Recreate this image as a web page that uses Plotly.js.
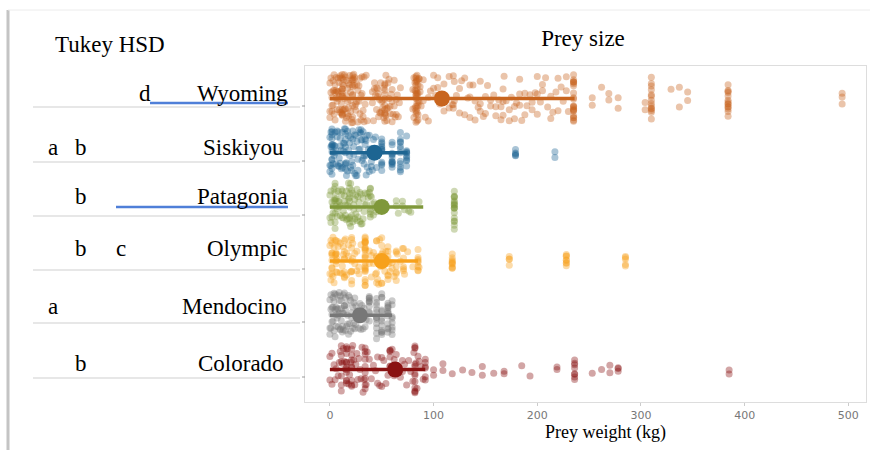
<!DOCTYPE html>
<html>
<head>
<meta charset="utf-8">
<script src="https://cdn.plot.ly/plotly-3.0.1.min.js"></script>
<style>html,body{margin:0;padding:0;background:#fff;}#chart{width:870px;height:450px;}</style>
</head>
<body>
<div id="chart"></div>
<script>
// ---- data ----
const categories = ['Wyoming', 'Siskiyou', 'Patagonia', 'Olympic', 'Mendocino', 'Colorado'];

const wyoming = [0,0,0,1,1,2,2,2,3,3,3,4,4,4,5,5,5,6,6,6,7,7,7,8,8,8,9,9,9,10,10,10,11,11,11,
12,12,12,12,12,12,12,12,12,12,12,12,13,13,13,14,14,14,15,15,15,16,16,16,17,17,17,18,18,18,19,19,20,20,20,21,21,21,
22,22,22,22,22,22,22,22,22,22,23,23,24,24,24,25,25,26,26,27,27,28,28,29,29,30,30,31,31,32,32,33,33,34,35,36,
41,41,42,43,43,44,45,45,46,46,47,47,48,48,49,49,50,50,51,51,52,52,53,53,53,53,53,53,53,53,53,53,54,54,55,55,56,56,57,57,58,58,59,60,60,60,61,62,62,63,64,64,65,66,67,68,
80,80,81,81,82,82,82,83,83,83,83,83,83,83,83,83,83,83,83,84,84,84,84,84,84,84,84,84,84,85,85,85,85,85,85,86,86,86,87,87,88,
90,90,92,95,95,97,100,100,102,104,104,106,110,110,112,115,115,118,119,119,119,120,120,122,125,125,127,130,130,133,135,135,135,138,140,140,143,145,145,145,148,150,150,152,155,155,158,160,160,163,165,165,167,167,167,168,170,173,173,175,178,178,180,183,183,183,185,188,188,190,193,195,195,198,200,200,200,203,205,205,208,210,213,213,215,218,220,220,223,225,228,228,230,
235,235,235,235,235,235,235,235,235,235,235,235,235,235,235,235,235,235,235,235,235,235,
253,253,262,269,269,278,278,304,304,
310,310,310,310,310,310,310,310,310,310,310,310,310,310,329,337,337,345,345,
384,384,384,384,384,384,384,384,384,384,384,384,384,384,494,494,494];

const siskiyou = [0,0,0,1,1,1,2,2,2,2,2,2,2,2,2,2,2,2,3,3,3,4,4,5,5,5,6,6,7,7,8,8,9,9,10,10,10,11,11,12,12,13,13,14,14,
15,15,15,15,15,15,15,15,16,16,17,17,18,18,19,19,20,20,21,21,22,22,22,23,23,24,24,25,25,26,26,27,27,28,28,29,29,30,30,30,31,31,32,32,33,33,34,34,35,35,35,36,36,37,38,38,39,40,40,41,42,43,44,45,46,
50,50,50,50,50,50,50,50,50,50,50,50,
60,60,60,60,60,60,60,60,60,60,60,60,
68,68,68,68,68,68,68,68,68,68,68,68,
74,74,74,74,74,74,74,74,74,74,
179,179,179,179,179,217,217];

const patagonia = [0,0,1,1,2,2,3,3,4,4,5,5,5,5,5,5,5,5,6,6,7,7,8,8,9,9,10,10,11,11,12,12,13,13,14,14,15,15,16,16,17,17,18,18,
19,19,19,19,19,19,19,19,20,20,21,21,22,22,23,23,24,24,25,25,26,26,27,27,28,28,29,29,30,30,31,32,32,33,34,34,35,36,37,38,
39,39,39,39,39,39,39,40,41,42,43,44,45,
64,64,66,70,70,72,76,78,86,
120,120,120,120,120,120,120,120,120,120,120,120,120,120,120,120,120,120];

const olympic = [0,0,1,1,2,2,2,2,2,2,2,2,3,3,4,4,5,5,6,6,6,6,6,6,6,6,7,7,8,8,10,10,12,12,13,13,14,14,14,14,14,14,14,15,16,16,18,18,20,
21,21,21,21,21,21,21,21,22,22,24,24,26,26,28,28,30,
34,34,34,34,34,34,34,34,34,34,34,34,34,34,34,34,34,34,34,34,34,34,34,34,
38,38,40,40,42,42,44,45,45,45,45,45,45,46,47,48,49,50,50,50,50,50,50,51,52,53,54,55,56,56,56,56,56,56,56,57,58,60,60,62,
64,64,64,64,64,64,65,68,70,71,71,71,71,71,72,75,80,85,85,85,85,85,85,85,85,86,
118,118,118,118,118,118,118,118,118,118,
173,173,173,173,228,228,228,228,228,228,228,228,285,285,285,285,285];

const mendocino = [0,0,0,1,1,1,2,2,2,3,3,3,4,4,4,5,5,5,6,6,6,7,7,7,8,8,8,9,9,9,10,10,10,11,11,11,12,12,12,13,13,13,14,14,14,15,15,15,16,16,17,17,18,18,19,19,20,20,21,21,22,22,23,23,24,24,25,25,26,27,28,29,30,31,32,33,34,35,
38,38,38,38,38,38,38,38,38,38,
45,45,45,45,45,45,45,45,45,45,45,45,
50,50,50,50,50,50,50,50,50,50,50,50,
56,56,56,56,56,56,56,56,56,56,56,56,
60,60,60,60,60,60,60,60];

const colorado = [0,0,2,2,4,5,6,8,9,10,11,11,11,11,11,11,12,13,14,15,
16,16,16,16,16,16,16,16,16,16,16,17,18,19,20,21,21,21,21,21,21,21,21,22,23,24,25,26,27,28,29,30,31,32,33,
34,34,34,34,34,34,34,34,34,35,36,38,40,42,44,46,46,48,50,50,52,54,56,
58,58,58,58,58,58,60,62,62,64,66,68,70,70,72,74,76,78,80,81,
82,82,82,82,82,82,82,82,82,82,82,82,83,84,85,86,88,90,92,92,92,92,92,92,
100,100,109,109,118,128,137,147,147,158,168,168,185,193,219,219,
236,236,236,236,236,236,236,236,253,262,270,270,278,278,278,385,385];

const seriesValues = [wyoming, siskiyou, patagonia, olympic, mendocino, colorado];
const means      = [108, 43, 50, 50, 29, 63];
const spreadLow  = [108, 43, 50, 50, 29, 63];
const spreadHigh = [128, 32, 40, 35, 31, 29];
const xTickVals  = [0, 100, 200, 300, 400, 500];
const tukeyLetters = [['d'], ['a', 'b'], ['b'], ['b', 'c'], ['a'], ['b']];

// ---- styles ----
const colors = ['#c8651f', '#1d6592', '#7f983a', '#f7a11c', '#777777', '#8a1212'];
const serif = 'Liberation Serif, Times New Roman, serif';

const L = 305, R = 866, T = 66, B = 402;
const px = x => (x - L) / (R - L);
const py = y => (B - y) / (B - T);

const traces = [];
categories.forEach((c, i) => {
  traces.push({
    type: 'box', orientation: 'h', name: c, x: seriesValues[i],
    boxpoints: 'all', jitter: 1, pointpos: 0, width: 0.9,
    fillcolor: 'rgba(0,0,0,0)', line: {width: 0, color: 'rgba(0,0,0,0)'},
    whiskerwidth: 0,
    marker: {color: colors[i], size: 7, opacity: 0.38, line: {width: 0}},
    hoveron: 'points', showlegend: false
  });
});
categories.forEach((c, i) => {
  traces.push({
    type: 'scatter', mode: 'markers', x: [means[i]], y: [c],
    marker: {color: colors[i], size: 16, opacity: 1},
    error_x: {type: 'data', symmetric: false, array: [spreadHigh[i]], arrayminus: [spreadLow[i]],
              width: 0, thickness: 3.5, color: colors[i]},
    showlegend: false
  });
});

// left annotation panel
const rowText = [93, 147, 197, 248, 306, 363];
const nameRight = [288, 284, 288, 288, 287, 284];
const letterX = {a: 53, b: 81, c: 121, d: 145};
const lineY = [107, 162, 216, 270, 323, 378];

const annotations = [
  {text: 'Tukey HSD', x: px(53), y: py(44), xanchor: 'left', yanchor: 'middle'},
  {text: 'Prey weight (kg)', x: px(605), y: py(433), xanchor: 'center', yanchor: 'middle', font: {family: serif, size: 18, color: '#000'}}
];
categories.forEach((c, i) => {
  annotations.push({text: c, x: px(nameRight[i] + 2), y: py(rowText[i]), xanchor: 'right', yanchor: 'middle'});
  tukeyLetters[i].forEach(l => {
    annotations.push({text: l, x: px(letterX[l]), y: py(rowText[i]), xanchor: 'center', yanchor: 'middle'});
  });
});
annotations.forEach(a => {
  a.xref = 'paper'; a.yref = 'paper'; a.showarrow = false;
  if (!a.font) a.font = {family: serif, size: 23, color: '#000'};
});

const shapes = [
  {type: 'line', x0: px(8), x1: px(8), y0: py(10), y1: py(452), line: {color: '#c4c4c4', width: 3}},
  {type: 'line', x0: px(8), x1: px(872), y0: py(10), y1: py(10), line: {color: '#ececec', width: 1}},
  {type: 'line', x0: px(150), x1: px(288), y0: py(103), y1: py(103), line: {color: '#4f7fd8', width: 2.5}},
  {type: 'line', x0: px(116), x1: px(288), y0: py(207), y1: py(207), line: {color: '#4f7fd8', width: 2.5}}
];
lineY.forEach(y => {
  shapes.push({type: 'line', x0: px(33), x1: px(300), y0: py(y), y1: py(y), line: {color: '#cfcfcf', width: 1}});
  shapes.push({type: 'line', x0: px(302), x1: px(305), y0: py(y - 1), y1: py(y - 1), line: {color: '#999', width: 1}});
});
shapes.forEach(s => { s.xref = 'paper'; s.yref = 'paper'; s.layer = 'above'; });

const layout = {
  width: 870, height: 450,
  margin: {l: L, r: 870 - R, t: T, b: 450 - B, pad: 0},
  paper_bgcolor: '#fff', plot_bgcolor: '#fff',
  title: {text: 'Prey size', x: 583 / 870, xanchor: 'center', xref: 'container', y: 1 - 38 / 450, yanchor: 'middle', yref: 'container',
          font: {family: serif, size: 23, color: '#000'}},
  showlegend: false,
  xaxis: {range: [-24, 517], tickvals: xTickVals, showgrid: false, zeroline: false,
          showline: true, mirror: true, linecolor: '#dddddd', linewidth: 1,
          ticks: 'outside', ticklen: 3, tickcolor: '#cccccc',
          tickfont: {family: 'DejaVu Sans, sans-serif', size: 11, color: '#777'}},
  yaxis: {type: 'category', categoryorder: 'array', categoryarray: categories, range: [5.6, -0.6],
          showticklabels: false, showgrid: false, zeroline: false,
          showline: true, mirror: true, linecolor: '#dddddd', linewidth: 1, ticks: ''},
  annotations: annotations,
  shapes: shapes
};

Plotly.newPlot('chart', traces, layout, {displayModeBar: false, staticPlot: true});
</script>
</body>
</html>
